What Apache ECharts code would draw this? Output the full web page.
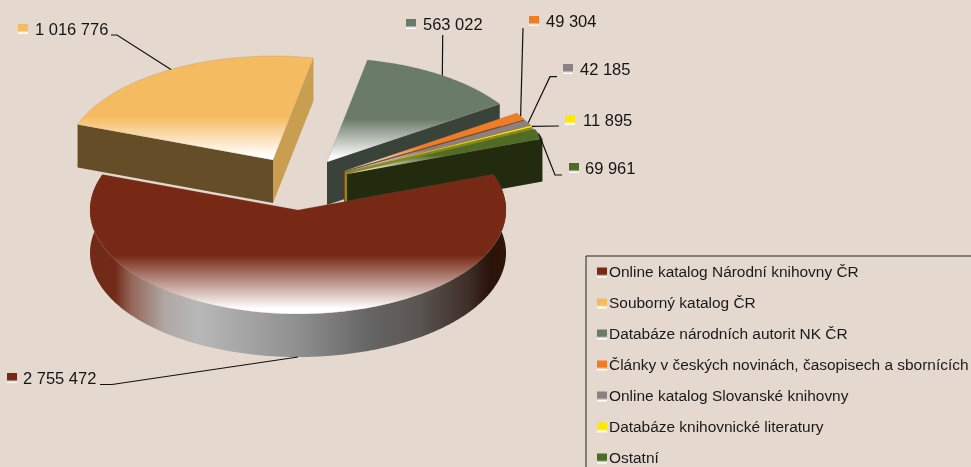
<!DOCTYPE html>
<html><head><meta charset="utf-8">
<style>html,body{margin:0;padding:0;background:#E4D8CF;overflow:hidden}#c{width:971px;height:467px}</style>
<script src="https://cdn.jsdelivr.net/npm/echarts@6/dist/echarts.min.js"></script>
</head><body><div id="c"></div>
<script>
// ---- data ----
const categories = [
  'Online katalog Národní knihovny ČR',
  'Souborný katalog ČR',
  'Databáze národních autorit NK ČR',
  'Články v českých novinách, časopisech a sbornících',
  'Online katalog Slovanské knihovny',
  'Databáze knihovnické literatury',
  'Ostatní'
];
const values = [2755472, 1016776, 563022, 49304, 42185, 11895, 69961];

// ---- styles and layout (not data) ----
const colors = ['#772916', '#F5BB60', '#6B7B69', '#F07D26', '#8C8080', '#FFE800', '#4F6B26'];
const endWallColors = [null, '#C99E50', '#3A4339', '#7F4A1C', '#5C5650', '#8A8A10', '#232B0E'];
const startWallColors = [null, '#654E27', null, null, null, null, null];
const explodeX = [0, -25, 29, 46, 47, 47, 49];
const explodeY = [0, -50, -48, -39, -38, -38, -36];
const drawOrder = [2, 3, 4, 5, 6, 0, 1];
const CX = 298, CY = 210, RX = 208, RY = 104, DEPTH = 43, START_DEG = 20;
const labelIconX = [7, 18, 406, 529, 563, 565, 569];
const labelIconY = [373, 24, 19, 16, 64, 115, 163];
const labelTextX = [23, 35, 423, 546, 580, 583, 585];
const leaderBendX = [112, 117, 442.7, 523, 550, 559, 555];
const leaderBendY = [384.5, 35, 35, 28, 76.7, 126, 175];
const leaderEndX = [100, 111, 442.7, 523, 557, 559, 562];
const LABEL_FONT = '16.5px "Liberation Sans"';
const LEGEND_FONT_SIZE = 15.45;

const G = echarts.graphic.LinearGradient;
const total = values.reduce((a, b) => a + b, 0);
const fade = c => new G(0, 0, 0, 1, [{offset: 0, color: c}, {offset: .58, color: c}, {offset: .96, color: '#fff'}, {offset: 1, color: '#fff'}]);
const iconFade = c => new G(0, 0, 0, 1, [{offset: 0, color: c}, {offset: .65, color: c}, {offset: .9, color: '#fff'}, {offset: 1, color: '#fff'}]);
const wallGradient = new G(0, 0, 1, 0, [
  {offset: 0, color: '#702A17'}, {offset: .06, color: '#722B19'}, {offset: .10, color: '#93665A'},
  {offset: .18, color: '#B0A7A4'}, {offset: .26, color: '#B8B8B8'}, {offset: .5, color: '#8F8F8F'},
  {offset: .67, color: '#666666'}, {offset: .79, color: '#5A5552'}, {offset: .91, color: '#3E2E28'},
  {offset: .96, color: '#2A130A'}, {offset: 1, color: '#2F1509'}
]);

// slice angles (degrees, clockwise from START_DEG), from the values
const angStart = [], angEnd = [];
values.reduce((acc, v, i) => {
  angStart[i] = START_DEG - acc / total * 360;
  angEnd[i] = START_DEG - (acc + v) / total * 360;
  return acc + v;
}, 0);
const rad = d => d * Math.PI / 180;
const pt = (i, deg, dz) => [CX + explodeX[i] + RX * Math.cos(rad(deg)), CY + explodeY[i] - RY * Math.sin(rad(deg)) + (dz || 0)];
const apex = (i, dz) => [CX + explodeX[i], CY + explodeY[i] + (dz || 0)];
const arc = (i, a, b, dz) => {
  const n = Math.max(2, Math.ceil(Math.abs(a - b) * 2)), out = [];
  for (let k = 0; k <= n; k++) out.push(pt(i, a + (b - a) * k / n, dz));
  return out;
};
const poly = (points, fill) => ({type: 'polygon', shape: {points}, style: {fill}});
const radialWall = (i, deg, fill) => poly([apex(i), pt(i, deg), pt(i, deg, DEPTH), apex(i, DEPTH)], fill);

function renderSlice(i) {
  return function () {
    const kids = [];
    if (i === 0) {
      const top = arc(0, angStart[0], angEnd[0]);
      const bot = arc(0, angEnd[0], angStart[0], DEPTH);
      kids.push(poly(top.concat(bot), wallGradient));
    }
    if (startWallColors[i]) kids.push(radialWall(i, angStart[i], startWallColors[i]));
    if (endWallColors[i]) kids.push(radialWall(i, angEnd[i], endWallColors[i]));
    kids.push({
      type: 'polygon',
      shape: {points: [apex(i)].concat(arc(i, angStart[i], angEnd[i]))},
      style: {fill: fade(colors[i]), stroke: 'rgba(120,110,100,.35)', lineWidth: .5}
    });
    return {type: 'group', children: kids};
  };
}

const fmt = v => String(v).replace(/\B(?=(\d{3})+$)/g, ' ');

function renderLabel(params, api) {
  const i = params.dataIndex, v = api.value(0);
  const mid = (angStart[i] + angEnd[i]) / 2;
  const start = pt(i, mid, i === 0 ? DEPTH : 0);
  const pts = [start, [leaderBendX[i], leaderBendY[i]], [leaderEndX[i], leaderBendY[i]]];
  return {type: 'group', children: [
    {type: 'polyline', shape: {points: pts}, style: {fill: 'none', stroke: '#111', lineWidth: 1.2}},
    {type: 'rect', shape: {x: labelIconX[i], y: labelIconY[i], width: 10, height: 10}, style: {fill: iconFade(colors[i])}},
    {type: 'text', style: {text: fmt(v), x: labelTextX[i], y: labelIconY[i] + 6.5, font: LABEL_FONT, fill: '#151515', align: 'left', verticalAlign: 'middle'}}
  ]};
}

const series = drawOrder.map((i, order) => ({
  type: 'custom', name: categories[i], coordinateSystem: 'none', z: 2 + order, silent: true,
  itemStyle: {color: colors[i]}, renderItem: renderSlice(i), data: [[values[i]]]
}));
series.push({
  type: 'custom', name: 'popisky', coordinateSystem: 'none', z: 20, silent: true,
  renderItem: renderLabel, data: values.map(v => [v])
});

const chart = echarts.init(document.getElementById('c'), null, {renderer: 'canvas'});
chart.setOption({
  animation: false,
  backgroundColor: '#E4D8CF',
  legend: {
    orient: 'vertical', left: 586, top: 256, height: 300, width: 420,
    padding: [8, 30, 40, 11], borderColor: '#222', borderWidth: 1,
    itemWidth: 10, itemHeight: 10, itemGap: 14, icon: 'rect', selectedMode: false,
    textStyle: {fontFamily: 'Liberation Sans', fontSize: LEGEND_FONT_SIZE, color: '#1a1a1a', padding: [0, 0, 0, -3], lineHeight: 17},
    data: categories.map((name, i) => ({name, itemStyle: {color: iconFade(colors[i])}}))
  },
  series
});
</script></body></html>
